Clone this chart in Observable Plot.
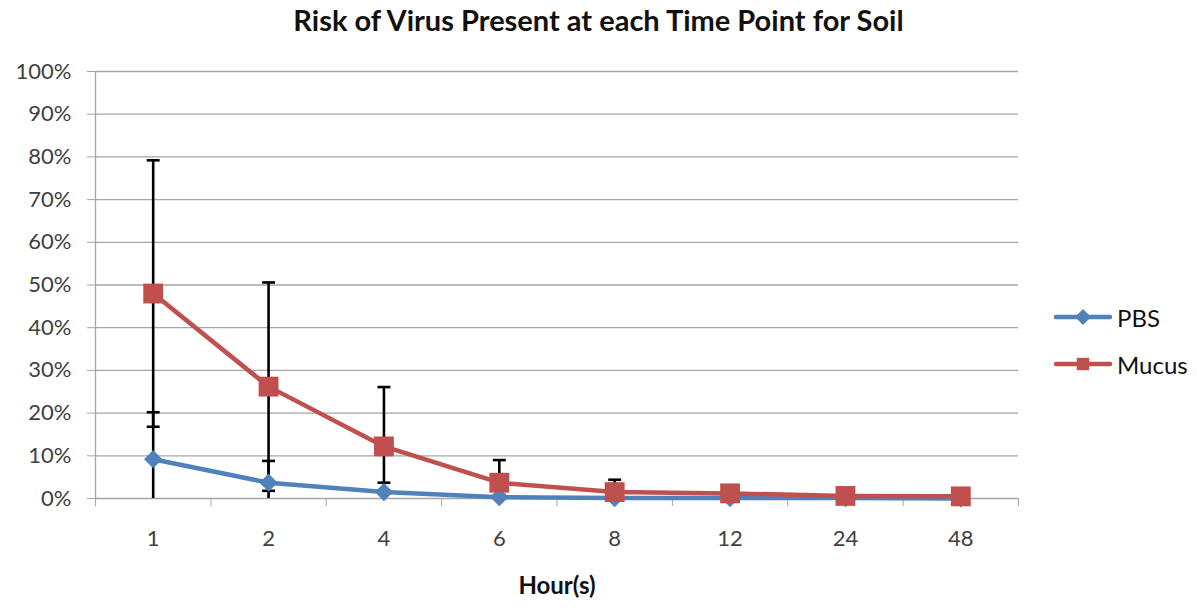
<!DOCTYPE html>
<html>
<head>
<meta charset="utf-8">
<script src="https://cdn.jsdelivr.net/npm/d3@7"></script>
<script src="https://cdn.jsdelivr.net/npm/@observablehq/plot@0.6"></script>
<style>
  html, body { margin: 0; padding: 0; background: #ffffff; }
  #wrap { position: relative; width: 1197px; height: 610px; font-family: Lato, "Open Sans", sans-serif; }
  #title { position: absolute; left: 0; width: 1197px; top: 2px; text-align: center; font-size: 29px; font-weight: bold; color: #111; }
  .leg { position: absolute; left: 1054px; display: flex; align-items: center; font-size: 24px; color: #111; }
  .leg svg { margin-right: 5px; }
</style>
</head>
<body>
<div id="wrap">
  <div id="title"></div>
</div>
<script>
// ---- data ----
const titleText = "Risk of Virus Present at each Time Point for Soil";
const xLabel = "Hour(s)";
const hours = ["1", "2", "4", "6", "8", "12", "24", "48"];
const seriesNames = ["PBS", "Mucus"];
const pbsValues = [0.092, 0.037, 0.015, 0.003, 0.001, 0.001, 0.001, 0.000];
const pbsErrors = [0.110, 0.051, 0.022, 0.005, 0.002, 0.001, 0.001, 0.000];
const mucusValues = [0.480, 0.262, 0.122, 0.037, 0.015, 0.012, 0.006, 0.005];
const mucusErrors = [0.312, 0.244, 0.139, 0.053, 0.029, 0.004, 0.003, 0.002];
const yTicks = [0, 0.1, 0.2, 0.3, 0.4, 0.5, 0.6, 0.7, 0.8, 0.9, 1.0];
const seriesColors = ["#4f81bd", "#c0504d"];
const seriesSymbols = ["diamond2", "square"];

// ---- table ----
const valuesBy = [pbsValues, mucusValues];
const errorsBy = [pbsErrors, mucusErrors];
const rows = [];
seriesNames.forEach((s, k) => {
  hours.forEach((h, i) => {
    const v = valuesBy[k][i], e = errorsBy[k][i];
    rows.push({series: s, i, hour: h, v, e, lo: Math.max(0, v - e), hi: v + e, loShown: v - e >= 0});
  });
});
const idx = hours.map((h, i) => i);
const bounds = d3.range(-0.5, hours.length, 1);
const gray = "#a6a6a6";
const capSymbol = { draw(ctx, size) { const w = Math.sqrt(size) / 2; ctx.moveTo(-w, 0); ctx.lineTo(w, 0); } };
const font = "Lato, 'Open Sans', sans-serif";
const pbsRows = rows.filter(d => d.series === seriesNames[0]);
const mucusRows = rows.filter(d => d.series === seriesNames[1]);

const chart = Plot.plot({
  width: 1197,
  height: 610,
  marginLeft: 95,
  marginRight: 179,
  marginTop: 71,
  marginBottom: 112,
  style: { fontFamily: font, fontSize: "22px", color: "#404040", background: "transparent" },
  x: { type: "linear", domain: [-0.5, hours.length - 0.5], axis: null },
  y: { domain: [0, 1], axis: null },
  marks: [
    Plot.gridY(yTicks, { stroke: gray, strokeOpacity: 1, strokeWidth: 1.3 }),
    Plot.axisY(yTicks, { tickFormat: d3.format(".0%"), tickSize: 8, tickPadding: 16, stroke: gray, strokeOpacity: 1, fill: "#404040", fontSize: 22, label: null }),
    Plot.ruleX([-0.5], { stroke: gray, strokeWidth: 1.3 }),
    Plot.axisX(bounds, { tickSize: 8, tickFormat: () => "", stroke: gray, strokeOpacity: 1, label: null }),
    Plot.axisX(idx, { tickSize: 0, tickPadding: 32, tickFormat: i => hours[i], fill: "#404040", fontSize: 22, label: null }),
    // error bars
    Plot.ruleX(rows, { x: "i", y1: "lo", y2: "hi", stroke: "black", strokeWidth: 2.6 }),
    Plot.dot(rows, { x: "i", y: "hi", symbol: capSymbol, r: 7.3, stroke: "black", strokeWidth: 2.6, fill: "none" }),
    Plot.dot(rows.filter(d => d.loShown), { x: "i", y: "lo", symbol: capSymbol, r: 7.3, stroke: "black", strokeWidth: 2.6, fill: "none" }),
    // lines
    Plot.line(pbsRows, { x: "i", y: "v", stroke: seriesColors[0], strokeWidth: 4.5, strokeLinejoin: "round" }),
    Plot.line(mucusRows, { x: "i", y: "v", stroke: seriesColors[1], strokeWidth: 4.5, strokeLinejoin: "round" }),
    Plot.dot(pbsRows, { x: "i", y: "v", symbol: seriesSymbols[0], fill: seriesColors[0], r: 8.2 }),
    Plot.dot(mucusRows, { x: "i", y: "v", symbol: seriesSymbols[1], fill: seriesColors[1], r: 11.2 }),
    Plot.text([xLabel], { frameAnchor: "bottom", dy: 95, fontWeight: "bold", fontSize: 24, fill: "#111" })
  ]
});

const wrap = document.getElementById("wrap");
wrap.appendChild(chart);
chart.style.position = "absolute";
chart.style.left = "0";
chart.style.top = "0";
document.getElementById("title").textContent = titleText;

// legend
const legTops = [302, 349];
seriesNames.forEach((s, k) => {
  const div = document.createElement("div");
  div.className = "leg";
  div.style.top = legTops[k] + "px";
  const ns = "http://www.w3.org/2000/svg";
  const svg = document.createElementNS(ns, "svg");
  svg.setAttribute("width", 58); svg.setAttribute("height", 30);
  const line = document.createElementNS(ns, "line");
  line.setAttribute("x1", 2); line.setAttribute("x2", 56); line.setAttribute("y1", 15); line.setAttribute("y2", 15);
  line.setAttribute("stroke", seriesColors[k]); line.setAttribute("stroke-width", 4.5); line.setAttribute("stroke-linecap", "round");
  svg.appendChild(line);
  const path = document.createElementNS(ns, "path");
  const sym = k === 0 ? d3.symbol(d3.symbolDiamond2, Math.PI * 8 * 8 * 0.8) : d3.symbol(d3.symbolSquare, Math.PI * 7 * 7);
  path.setAttribute("d", sym());
  path.setAttribute("transform", "translate(29,15)");
  path.setAttribute("fill", seriesColors[k]);
  svg.appendChild(path);
  div.appendChild(svg);
  const span = document.createElement("span");
  span.textContent = s;
  div.appendChild(span);
  wrap.appendChild(div);
});
</script>
</body>
</html>
